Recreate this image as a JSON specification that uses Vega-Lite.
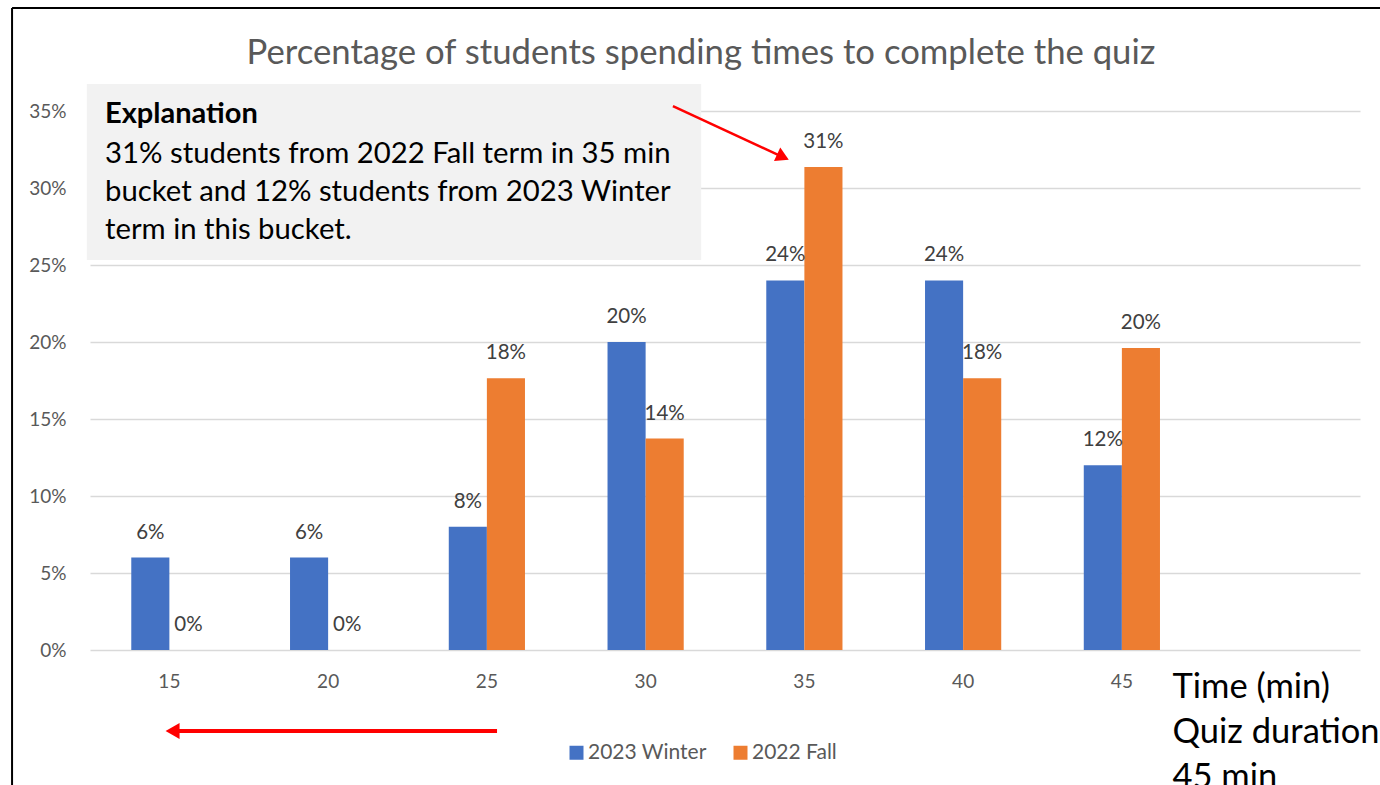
{
  "$schema": "https://vega.github.io/schema/vega-lite/v6.json",
  "width": 1270,
  "height": 539,
  "autosize": {"type": "none"},
  "padding": {"left": 90, "top": 111, "right": 20, "bottom": 135},
  "background": "white",
  "config": {"font": "Lato", "view": {"stroke": null}},
  "datasets": {
    "quiz": [
      {"time": "15", "term": "2023 Winter", "pct": 0.06},
      {"time": "20", "term": "2023 Winter", "pct": 0.06},
      {"time": "25", "term": "2023 Winter", "pct": 0.08},
      {"time": "30", "term": "2023 Winter", "pct": 0.20},
      {"time": "35", "term": "2023 Winter", "pct": 0.24},
      {"time": "40", "term": "2023 Winter", "pct": 0.24},
      {"time": "45", "term": "2023 Winter", "pct": 0.12},
      {"time": "15", "term": "2022 Fall", "pct": 0.0},
      {"time": "20", "term": "2022 Fall", "pct": 0.0},
      {"time": "25", "term": "2022 Fall", "pct": 0.1765},
      {"time": "30", "term": "2022 Fall", "pct": 0.1373},
      {"time": "35", "term": "2022 Fall", "pct": 0.3137},
      {"time": "40", "term": "2022 Fall", "pct": 0.1765},
      {"time": "45", "term": "2022 Fall", "pct": 0.1961}
    ]
  },
  "layer": [
    {
      "data": {"name": "quiz"},
      "encoding": {
        "x": {
          "field": "time",
          "type": "nominal",
          "scale": {"domain": ["15", "20", "25", "30", "35", "40", "45", "50"], "paddingInner": 0.52, "paddingOuter": 0.26},
          "axis": {
            "values": ["15", "20", "25", "30", "35", "40", "45"],
            "labelAngle": 0,
            "domain": false,
            "ticks": false,
            "grid": false,
            "labelFontSize": 19,
            "labelColor": "#595959",
            "labelPadding": 22,
            "title": ["Time (min)", "Quiz duration:", "\u00a045 min"],
            "titleX": 1082,
            "titleY": 47,
            "titleAlign": "left",
            "titleAnchor": null,
            "titleBaseline": "alphabetic",
            "titleFontSize": 34.5,
            "titleFontWeight": "normal",
            "titleColor": "#000000",
            "titleLineHeight": 45
          }
        },
        "xOffset": {"field": "term", "type": "nominal", "sort": ["2023 Winter", "2022 Fall"]},
        "y": {
          "field": "pct",
          "type": "quantitative",
          "scale": {"domain": [0, 0.35], "nice": false},
          "axis": {
            "values": [0, 0.05, 0.1, 0.15, 0.2, 0.25, 0.3, 0.35],
            "format": ".0%",
            "title": null,
            "domain": false,
            "ticks": false,
            "labelFontSize": 19,
            "labelColor": "#595959",
            "labelPadding": 24,
            "gridColor": "#d9d9d9",
            "gridWidth": 1.5
          }
        }
      },
      "layer": [
        {
          "mark": {"type": "bar"},
          "encoding": {
            "color": {
              "field": "term",
              "type": "nominal",
              "scale": {"domain": ["2023 Winter", "2022 Fall"], "range": ["#4472C4", "#ED7D31"]},
              "legend": {
                "orient": "none",
                "legendX": 476,
                "legendY": 631,
                "direction": "horizontal",
                "columns": 2,
                "title": null,
                "symbolType": "square",
                "symbolSize": 196,
                "symbolStrokeWidth": 0,
                "labelFontSize": 21,
                "labelColor": "#595959",
                "labelOffset": 1,
                "columnPadding": 23
              }
            }
          }
        },
        {
          "mark": {"type": "text", "baseline": "middle", "dy": -25, "fontSize": 20.5, "color": "#404040"},
          "encoding": {"text": {"field": "pct", "type": "quantitative", "format": ".0%"}}
        }
      ]
    },
    {
      "layer": [
        {
          "data": {"values": [
            {"x": -0.491, "y": -0.0877, "x2": -0.491, "y2": 0.4169},
            {"x": -0.491, "y": 0.4169, "x2": 8.3, "y2": 0.4169}
          ]},
          "mark": {"type": "rule", "color": "#000000", "strokeWidth": 2},
          "encoding": {
            "x": {"field": "x", "type": "quantitative", "scale": {"domain": [0, 8], "nice": false, "zero": false}, "axis": null},
            "x2": {"field": "x2"},
            "y": {"field": "y", "type": "quantitative", "scale": {"domain": [0, 0.35], "nice": false, "zero": false}, "axis": null},
            "y2": {"field": "y2"}
          }
        },
        {
          "data": {"values": [{"label": "Percentage of students spending times to complete the quiz", "x": 3.849, "y": 0.3805}]},
          "mark": {"type": "text", "align": "center", "baseline": "alphabetic", "fontSize": 34.7, "color": "#595959"},
          "encoding": {
            "x": {"field": "x", "type": "quantitative", "scale": {"domain": [0, 8], "nice": false, "zero": false}, "axis": null},
            "y": {"field": "y", "type": "quantitative", "scale": {"domain": [0, 0.35], "nice": false, "zero": false}, "axis": null},
            "text": {"field": "label"}
          }
        },
        {
          "data": {"values": [{"x": -0.02, "x2": 3.85, "y": 0.3675, "y2": 0.2532}]},
          "mark": {"type": "rect", "color": "#f2f2f2"},
          "encoding": {
            "x": {"field": "x", "type": "quantitative", "scale": {"domain": [0, 8], "nice": false, "zero": false}, "axis": null},
            "x2": {"field": "x2"},
            "y": {"field": "y", "type": "quantitative", "scale": {"domain": [0, 0.35], "nice": false, "zero": false}, "axis": null},
            "y2": {"field": "y2"}
          }
        },
        {
          "data": {"values": [{"label": "Explanation", "x": 0.0945, "y": 0.3422}]},
          "mark": {"type": "text", "align": "left", "baseline": "alphabetic", "fontSize": 29, "fontWeight": "bold", "color": "#000000"},
          "encoding": {
            "x": {"field": "x", "type": "quantitative", "scale": {"domain": [0, 8], "nice": false, "zero": false}, "axis": null},
            "y": {"field": "y", "type": "quantitative", "scale": {"domain": [0, 0.35], "nice": false, "zero": false}, "axis": null},
            "text": {"field": "label"}
          }
        },
        {
          "data": {"values": [
            {"label": "31% students from 2022 Fall term in 35 min", "x": 0.0945, "y": 0.3162},
            {"label": "bucket and 12% students from 2023 Winter", "x": 0.0945, "y": 0.2916},
            {"label": "term in this bucket.", "x": 0.0945, "y": 0.2669}
          ]},
          "mark": {"type": "text", "align": "left", "baseline": "alphabetic", "fontSize": 29.3, "color": "#000000"},
          "encoding": {
            "x": {"field": "x", "type": "quantitative", "scale": {"domain": [0, 8], "nice": false, "zero": false}, "axis": null},
            "y": {"field": "y", "type": "quantitative", "scale": {"domain": [0, 0.35], "nice": false, "zero": false}, "axis": null},
            "text": {"field": "label"}
          }
        },
        {
          "data": {"values": [{"x": 3.672, "y": 0.3532, "x2": 4.365, "y2": 0.3201}]},
          "mark": {"type": "rule", "color": "#FF0000", "strokeWidth": 2.5},
          "encoding": {
            "x": {"field": "x", "type": "quantitative", "scale": {"domain": [0, 8], "nice": false, "zero": false}, "axis": null},
            "x2": {"field": "x2"},
            "y": {"field": "y", "type": "quantitative", "scale": {"domain": [0, 0.35], "nice": false, "zero": false}, "axis": null},
            "y2": {"field": "y2"}
          }
        },
        {
          "data": {"values": [{"x": 4.365, "y": 0.3201}]},
          "mark": {"type": "point", "shape": "triangle-right", "angle": 25, "size": 220, "filled": true, "color": "#FF0000", "opacity": 1},
          "encoding": {
            "x": {"field": "x", "type": "quantitative", "scale": {"domain": [0, 8], "nice": false, "zero": false}, "axis": null},
            "y": {"field": "y", "type": "quantitative", "scale": {"domain": [0, 0.35], "nice": false, "zero": false}, "axis": null}
          }
        },
        {
          "data": {"values": [{"x": 2.564, "y": -0.0526, "x2": 0.56, "y2": -0.0526}]},
          "mark": {"type": "rule", "color": "#FF0000", "strokeWidth": 4},
          "encoding": {
            "x": {"field": "x", "type": "quantitative", "scale": {"domain": [0, 8], "nice": false, "zero": false}, "axis": null},
            "x2": {"field": "x2"},
            "y": {"field": "y", "type": "quantitative", "scale": {"domain": [0, 0.35], "nice": false, "zero": false}, "axis": null},
            "y2": {"field": "y2"}
          }
        },
        {
          "data": {"values": [{"x": 0.52, "y": -0.0526}]},
          "mark": {"type": "point", "shape": "triangle-left", "size": 260, "filled": true, "color": "#FF0000", "opacity": 1},
          "encoding": {
            "x": {"field": "x", "type": "quantitative", "scale": {"domain": [0, 8], "nice": false, "zero": false}, "axis": null},
            "y": {"field": "y", "type": "quantitative", "scale": {"domain": [0, 0.35], "nice": false, "zero": false}, "axis": null}
          }
        }
      ]
    }
  ],
  "resolve": {"scale": {"x": "independent", "y": "independent"}}
}
